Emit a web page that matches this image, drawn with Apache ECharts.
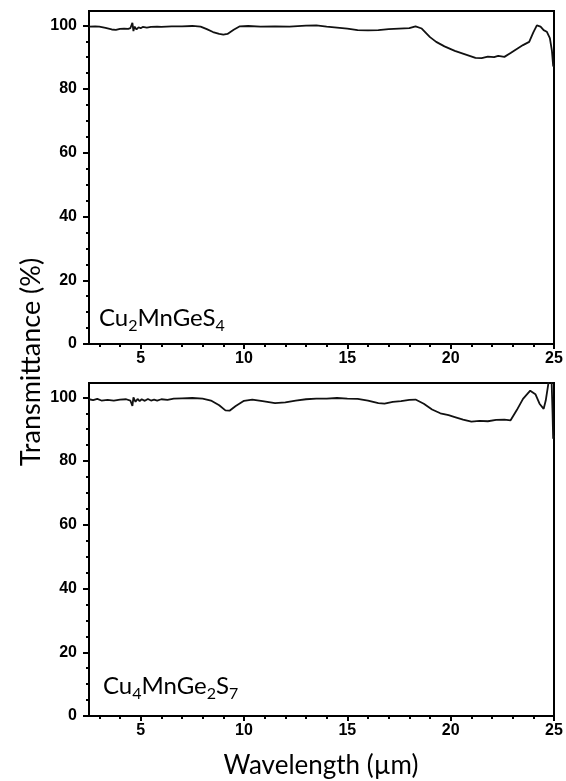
<!DOCTYPE html>
<html>
<head>
<meta charset="utf-8">
<script src="https://cdn.jsdelivr.net/npm/echarts@6/dist/echarts.min.js"></script>
<style>
  html, body { margin: 0; padding: 0; background: #fff; }
  #chart { width: 566px; height: 781px; }
</style>
</head>
<body>
<div id="chart"></div>
<script>
// ---- Data ----
const topWavelength = [2.5, 2.8, 3.0, 3.3, 3.6, 3.8, 4.0, 4.2, 4.4, 4.5, 4.6, 4.65, 4.7, 4.8, 4.9, 5.0, 5.1, 5.3, 5.5, 5.8, 6.0, 6.5, 7.0, 7.5, 7.9, 8.2, 8.5, 8.8, 9.0, 9.2, 9.5, 9.8, 10.2, 10.8, 11.5, 12.2, 13.0, 13.5, 14.0, 14.5, 15.0, 15.5, 16.0, 16.5, 17.0, 17.5, 18.0, 18.3, 18.6, 19.0, 19.3, 19.7, 20.2, 20.7, 21.2, 21.5, 21.8, 22.1, 22.3, 22.6, 22.9, 23.2, 23.5, 23.8, 24.0, 24.17, 24.35, 24.5, 24.65, 24.8, 24.9, 24.96, 25.0];
const topTransmittance = [99.6, 99.7, 99.6, 99.2, 98.7, 98.6, 98.9, 99.0, 98.9, 99.1, 100.8, 98.2, 99.6, 98.7, 99.4, 99.1, 99.5, 99.3, 99.5, 99.6, 99.5, 99.7, 99.7, 99.8, 99.6, 98.8, 97.9, 97.3, 97.1, 97.3, 98.6, 99.7, 99.8, 99.6, 99.7, 99.6, 99.9, 100.0, 99.6, 99.3, 99.0, 98.5, 98.4, 98.5, 98.8, 99.0, 99.1, 99.7, 99.0, 96.3, 94.8, 93.4, 92.0, 90.9, 89.8, 89.7, 90.2, 90.0, 90.4, 90.1, 91.3, 92.6, 93.8, 94.8, 97.8, 100.0, 99.6, 98.5, 98.0, 96.0, 92.0, 87.3, 87.0];

const botWavelength = [2.5, 2.7, 2.9, 3.1, 3.4, 3.7, 4.0, 4.3, 4.5, 4.6, 4.65, 4.75, 4.85, 4.95, 5.05, 5.2, 5.35, 5.5, 5.65, 5.8, 6.0, 6.3, 6.6, 7.0, 7.5, 8.0, 8.4, 8.8, 9.1, 9.3, 9.6, 10.0, 10.4, 10.9, 11.5, 12.0, 12.5, 13.0, 13.5, 14.0, 14.5, 15.0, 15.5, 16.0, 16.5, 16.8, 17.2, 17.6, 18.0, 18.3, 18.7, 19.1, 19.5, 19.9, 20.2, 20.6, 21.0, 21.4, 21.8, 22.2, 22.6, 22.9, 23.2, 23.5, 23.85, 24.1, 24.3, 24.5, 24.6, 24.72, 24.78, 24.88, 24.93, 24.96, 25.0];
const botTransmittance = [99.4, 99.1, 99.5, 99.0, 99.2, 99.0, 99.3, 99.4, 99.0, 97.3, 100.0, 98.6, 99.5, 98.8, 99.4, 98.9, 99.5, 99.0, 99.3, 99.0, 99.4, 99.2, 99.6, 99.7, 99.8, 99.6, 99.0, 97.5, 95.9, 95.8, 97.3, 98.9, 99.3, 98.8, 98.2, 98.4, 99.0, 99.4, 99.6, 99.6, 99.8, 99.6, 99.5, 99.0, 98.2, 98.0, 98.6, 98.8, 99.2, 99.3, 98.0, 96.2, 95.0, 94.4, 93.8, 93.0, 92.4, 92.6, 92.5, 92.9, 93.0, 92.8, 96.0, 99.5, 102.1, 101.0, 98.0, 96.4, 99.0, 104.0, 108.0, 106.0, 95.0, 87.0, 88.0];

const xMajorTicks = [5, 10, 15, 20, 25];
const xMinorTicks = [3, 4, 6, 7, 8, 9, 11, 12, 13, 14, 16, 17, 18, 19, 21, 22, 23, 24];
const yMajorTicks = [0, 20, 40, 60, 80, 100];
const yMinorTicks = [5, 10, 15, 25, 30, 35, 45, 50, 55, 65, 70, 75, 85, 90, 95];

const xTitle = 'Wavelength (µm)';
const yTitle = 'Transmittance (%)';

// ---- Chart ----
const X_MIN = 2.5, X_MAX = 25, Y_MIN = 0, Y_MAX = 104.5;
const tickFont = { fontFamily: '"Liberation Sans", Arial, sans-serif', fontWeight: 'bold', fontSize: 16, color: '#000' };
const titleFont = 'Lato, "Open Sans", sans-serif';

function makeX(gridIndex) {
  return [
    {
      type: 'value', gridIndex, min: X_MIN, max: X_MAX, position: 'bottom',
      axisLine: { show: true, onZero: false, lineStyle: { color: '#000', width: 2 } },
      axisTick: { show: true, customValues: xMajorTicks, length: 5, inside: false, lineStyle: { color: '#000', width: 2 } },
      axisLabel: { show: true, customValues: xMajorTicks, margin: 7, ...tickFont },
      splitLine: { show: false }
    },
    {
      type: 'value', gridIndex, min: X_MIN, max: X_MAX, position: 'bottom', offset: 0,
      axisLine: { show: false, onZero: false },
      axisTick: { show: true, customValues: xMinorTicks, length: 3, lineStyle: { color: '#000', width: 2 } },
      axisLabel: { show: false },
      splitLine: { show: false }
    }
  ];
}
function makeY(gridIndex) {
  return [
    {
      type: 'value', gridIndex, min: Y_MIN, max: Y_MAX, position: 'left',
      axisLine: { show: true, onZero: false, lineStyle: { color: '#000', width: 2 } },
      axisTick: { show: true, customValues: yMajorTicks, length: 6, lineStyle: { color: '#000', width: 2 } },
      axisLabel: { show: true, customValues: yMajorTicks, margin: 12, ...tickFont },
      splitLine: { show: false }
    },
    {
      type: 'value', gridIndex, min: Y_MIN, max: Y_MAX, position: 'left', offset: 0,
      axisLine: { show: false, onZero: false },
      axisTick: { show: true, customValues: yMinorTicks, length: 3, lineStyle: { color: '#000', width: 2 } },
      axisLabel: { show: false },
      splitLine: { show: false }
    }
  ];
}

const topData = topWavelength.map((w, i) => [w, topTransmittance[i]]);
const botData = botWavelength.map((w, i) => [w, botTransmittance[i]]);

const subRich = {
  a: { fontFamily: titleFont, fontSize: 24, lineHeight: 32, verticalAlign: 'middle' },
  s: { fontFamily: titleFont, fontSize: 16, lineHeight: 18, verticalAlign: 'bottom' }
};

const chart = echarts.init(document.getElementById('chart'), null, { renderer: 'canvas' });
chart.setOption({
  animation: false,
  backgroundColor: '#fff',
  grid: [
    { left: 89, top: 11, width: 465, height: 333, show: true, borderColor: '#000', borderWidth: 2, backgroundColor: 'transparent' },
    { left: 89, top: 383, width: 465, height: 333, show: true, borderColor: '#000', borderWidth: 2, backgroundColor: 'transparent' }
  ],
  xAxis: [...makeX(0), ...makeX(1)],
  yAxis: [...makeY(0), ...makeY(1)],
  series: [
    { type: 'line', xAxisIndex: 0, yAxisIndex: 0, data: topData, showSymbol: false, symbol: 'none', clip: true,
      lineStyle: { color: '#111', width: 1.8 } },
    { type: 'line', xAxisIndex: 2, yAxisIndex: 2, data: botData, showSymbol: false, symbol: 'none', clip: true,
      lineStyle: { color: '#111', width: 1.8 } }
  ],
  graphic: [
    { type: 'text', x: 31, y: 362, rotation: Math.PI / 2,
      style: { text: yTitle, font: '27px ' + titleFont, fill: '#000', textAlign: 'center', textVerticalAlign: 'middle' } },
    { type: 'text', x: 321, y: 766,
      style: { text: xTitle, font: '26px ' + titleFont, fill: '#000', textAlign: 'center', textVerticalAlign: 'middle' } },
    { type: 'text', x: 99, y: 302,
      style: { text: '{a|Cu}{s|2}{a|MnGeS}{s|4}', fill: '#000', rich: subRich } },
    { type: 'text', x: 103, y: 670,
      style: { text: '{a|Cu}{s|4}{a|MnGe}{s|2}{a|S}{s|7}', fill: '#000', rich: subRich } }
  ]
});
</script>
</body>
</html>
